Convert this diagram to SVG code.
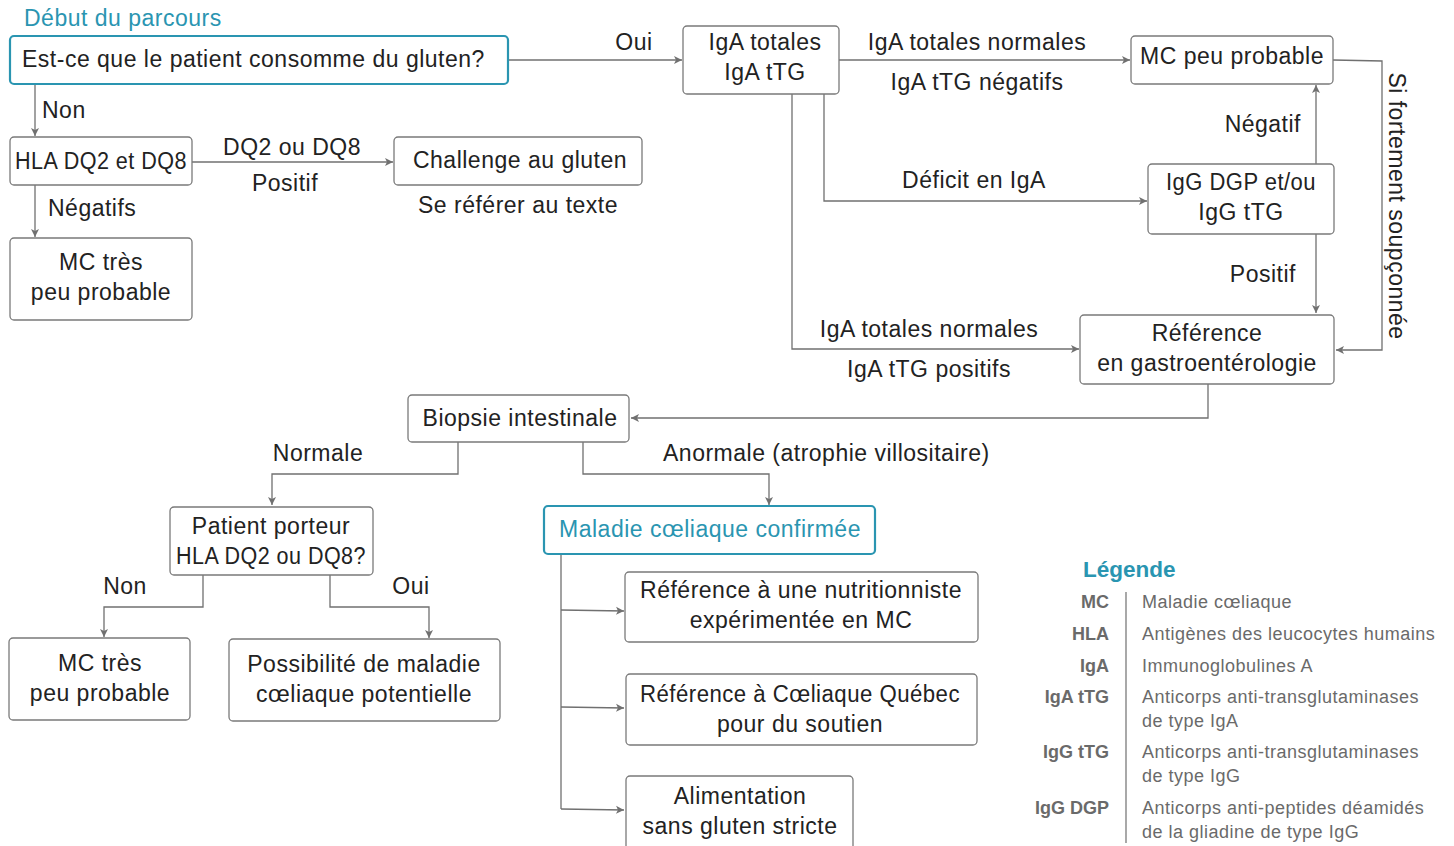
<svg xmlns="http://www.w3.org/2000/svg" width="1454" height="846" viewBox="0 0 1454 846">
<defs>
<marker id="ah" markerWidth="10" markerHeight="10" refX="9" refY="5" orient="auto" markerUnits="userSpaceOnUse">
<path d="M1,1 L9,5 L1,9 L3,5 Z" fill="#707070"/>
</marker>
<style>
.box{fill:#fff;stroke:#7a7a7a;stroke-width:1.3}
.tbox{fill:#fff;stroke:#2a95b1;stroke-width:2.2}
.t{font-family:"Liberation Sans",Arial,sans-serif;font-size:23px;letter-spacing:0.5px;fill:#222}
.c{text-anchor:middle}
.teal{fill:#2a95b1}
.lk{fill:none;stroke:#707070;stroke-width:1.3}
.lg{font-family:"Liberation Sans",Arial,sans-serif;font-size:18px;letter-spacing:0.5px;fill:#6a6a6a}
.lb{font-weight:bold;text-anchor:end;letter-spacing:0}
</style>
</defs>
<rect width="1454" height="846" fill="#fff"/>
<text class="t teal" x="24" y="26">Début du parcours</text>

<g id="connectors">
<path class="lk" d="M508,60 H682" marker-end="url(#ah)"/>
<path class="lk" d="M839,60 H1130" marker-end="url(#ah)"/>
<path class="lk" d="M1333,60 L1382,61 V350 H1336" marker-end="url(#ah)"/>
<path class="lk" d="M1316,164 V85" marker-end="url(#ah)"/>
<path class="lk" d="M1316,234 V313" marker-end="url(#ah)"/>
<path class="lk" d="M824,94 V201 H1147" marker-end="url(#ah)"/>
<path class="lk" d="M792,94 V349 H1079" marker-end="url(#ah)"/>
<path class="lk" d="M1208,384 V418 H631" marker-end="url(#ah)"/>
<path class="lk" d="M458,442 V474 H272 V505" marker-end="url(#ah)"/>
<path class="lk" d="M583,442 V474 H769 V505" marker-end="url(#ah)"/>
<path class="lk" d="M203,575 V607 H104 V637" marker-end="url(#ah)"/>
<path class="lk" d="M330,575 V607 H429 V638" marker-end="url(#ah)"/>
<path class="lk" d="M561,554 V809"/>
<path class="lk" d="M561,610 L624,611" marker-end="url(#ah)"/>
<path class="lk" d="M561,707 L624,708" marker-end="url(#ah)"/>
<path class="lk" d="M561,809 L624,810" marker-end="url(#ah)"/>
<path class="lk" d="M35,84 V136" marker-end="url(#ah)"/>
<path class="lk" d="M192,162 H393" marker-end="url(#ah)"/>
<path class="lk" d="M35,185 V237" marker-end="url(#ah)"/>
<text class="t c" x="634" y="50">Oui</text>
<text class="t c" x="977" y="50">IgA totales normales</text>
<text class="t c" x="977" y="90">IgA tTG négatifs</text>
<text class="t" x="1389" y="206" text-anchor="middle" transform="rotate(90 1389 206)">Si fortement soupçonnée</text>
<text class="t" x="1301" y="132" text-anchor="end">Négatif</text>
<text class="t" x="1296" y="282" text-anchor="end">Positif</text>
<text class="t c" x="974" y="188">Déficit en IgA</text>
<text class="t c" x="929" y="337">IgA totales normales</text>
<text class="t c" x="929" y="377">IgA tTG positifs</text>
<text class="t c" x="318" y="461">Normale</text>
<text class="t" x="663" y="461">Anormale (atrophie villositaire)</text>
<text class="t c" x="125" y="594">Non</text>
<text class="t c" x="411" y="594">Oui</text>
<text class="t" x="42" y="118">Non</text>
<text class="t c" x="292" y="155">DQ2 ou DQ8</text>
<text class="t c" x="285" y="191">Positif</text>
<text class="t" x="48" y="216">Négatifs</text>
<text class="t c" x="518" y="213">Se référer au texte</text>
</g>

<g id="n-start"><rect class="tbox" x="10" y="36" width="498" height="48" rx="4"/><text class="t" x="22" y="67">Est-ce que le patient consomme du gluten?</text></g>
<g id="n-iga"><rect class="box" x="683" y="26" width="156" height="68" rx="4"/><text class="t c" x="765" y="50">IgA totales</text><text class="t c" x="765" y="80">IgA tTG</text></g>
<g id="n-mcpeu"><rect class="box" x="1131" y="36" width="202" height="48" rx="4"/><text class="t c" x="1232" y="64">MC peu probable</text></g>
<g id="n-igg"><rect class="box" x="1148" y="164" width="186" height="70" rx="4"/><text class="t c" x="1241" y="190" textLength="150" lengthAdjust="spacingAndGlyphs">IgG DGP et/ou</text><text class="t c" x="1241" y="220">IgG tTG</text></g>
<g id="n-ref"><rect class="box" x="1080" y="315" width="254" height="69" rx="4"/><text class="t c" x="1207" y="341">Référence</text><text class="t c" x="1207" y="371">en gastroentérologie</text></g>
<g id="n-hla"><rect class="box" x="10" y="137" width="182" height="48" rx="4"/><text class="t c" x="101" y="169" textLength="172" lengthAdjust="spacingAndGlyphs">HLA DQ2 et DQ8</text></g>
<g id="n-challenge"><rect class="box" x="394" y="137" width="248" height="48" rx="4"/><text class="t c" x="520" y="168">Challenge au gluten</text></g>
<g id="n-mctres1"><rect class="box" x="10" y="238" width="182" height="82" rx="4"/><text class="t c" x="101" y="270">MC très</text><text class="t c" x="101" y="300">peu probable</text></g>
<g id="n-biopsie"><rect class="box" x="408" y="395" width="221" height="47" rx="4"/><text class="t c" x="520" y="426">Biopsie intestinale</text></g>
<g id="n-porteur"><rect class="box" x="170" y="507" width="203" height="68" rx="4"/><text class="t c" x="271" y="534">Patient porteur</text><text class="t c" x="271" y="564" textLength="190" lengthAdjust="spacingAndGlyphs">HLA DQ2 ou DQ8?</text></g>
<g id="n-mctres2"><rect class="box" x="9" y="638" width="181" height="82" rx="4"/><text class="t c" x="100" y="671">MC très</text><text class="t c" x="100" y="701">peu probable</text></g>
<g id="n-possib"><rect class="box" x="229" y="639" width="271" height="82" rx="4"/><text class="t c" x="364" y="672">Possibilité de maladie</text><text class="t c" x="364" y="702">cœliaque potentielle</text></g>
<g id="n-confirm"><rect class="tbox" x="544" y="506" width="331" height="48" rx="4"/><text class="t c teal" x="710" y="537">Maladie cœliaque confirmée</text></g>
<g id="n-nutri"><rect class="box" x="625" y="572" width="353" height="70" rx="4"/><text class="t c" x="801" y="598">Référence à une nutritionniste</text><text class="t c" x="801" y="628">expérimentée en MC</text></g>
<g id="n-quebec"><rect class="box" x="626" y="674" width="351" height="71" rx="4"/><text class="t c" x="800" y="702" textLength="320" lengthAdjust="spacingAndGlyphs">Référence à Cœliaque Québec</text><text class="t c" x="800" y="732">pour du soutien</text></g>
<g id="n-alim"><rect class="box" x="626" y="776" width="227" height="76" rx="4"/><text class="t c" x="740" y="804">Alimentation</text><text class="t c" x="740" y="834">sans gluten stricte</text></g>

<g id="legend">
<text x="1083" y="577" style="font-family:'Liberation Sans',Arial,sans-serif;font-size:22.5px;font-weight:bold;fill:#2a95b1">Légende</text>
<line x1="1126" y1="592" x2="1126" y2="843" stroke="#7a7a7a" stroke-width="1.3"/>
<text class="lg lb" x="1109" y="608">MC</text>
<text class="lg lb" x="1109" y="640">HLA</text>
<text class="lg lb" x="1109" y="672">IgA</text>
<text class="lg lb" x="1109" y="703">IgA tTG</text>
<text class="lg lb" x="1109" y="758">IgG tTG</text>
<text class="lg lb" x="1109" y="814">IgG DGP</text>
<text class="lg" x="1142" y="608">Maladie cœliaque</text>
<text class="lg" x="1142" y="640">Antigènes des leucocytes humains</text>
<text class="lg" x="1142" y="672">Immunoglobulines A</text>
<text class="lg" x="1142" y="703">Anticorps anti-transglutaminases</text>
<text class="lg" x="1142" y="727">de type IgA</text>
<text class="lg" x="1142" y="758">Anticorps anti-transglutaminases</text>
<text class="lg" x="1142" y="782">de type IgG</text>
<text class="lg" x="1142" y="814">Anticorps anti-peptides déamidés</text>
<text class="lg" x="1142" y="838">de la gliadine de type IgG</text>
</g>
</svg>
